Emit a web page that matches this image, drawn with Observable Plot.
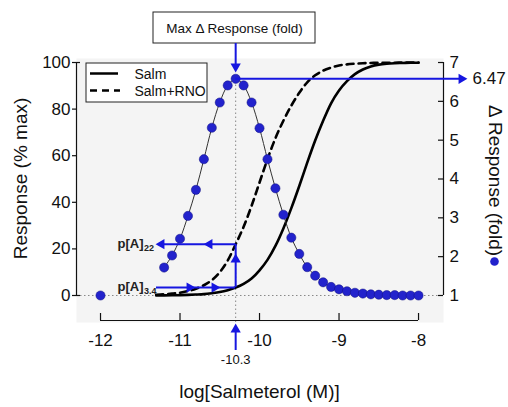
<!DOCTYPE html>
<html><head><meta charset="utf-8">
<script src="https://cdn.jsdelivr.net/npm/d3@7"></script>
<script src="https://cdn.jsdelivr.net/npm/@observablehq/plot@0.6"></script>
<style>body{margin:0;background:#fff;} #chart svg{display:block;}</style>
</head><body><div id="chart"></div>
<script>
// ---------- data ----------
const foldConc = [-12, -11.2, -11.1, -11.0, -10.9, -10.8, -10.7, -10.6, -10.5, -10.4, -10.3, -10.2, -10.1, -10.0, -9.9, -9.8, -9.7, -9.6, -9.5, -9.4, -9.3, -9.2, -9.1, -9.0, -8.9, -8.8, -8.7, -8.6, -8.5, -8.4, -8.3, -8.2, -8.1, -8.0];
const foldValues = [1.00, 1.72, 2.03, 2.46, 3.05, 3.72, 4.51, 5.32, 5.97, 6.41, 6.58, 6.41, 5.97, 5.31, 4.51, 3.76, 3.08, 2.49, 2.07, 1.73, 1.51, 1.34, 1.22, 1.16, 1.11, 1.07, 1.05, 1.03, 1.02, 1.01, 1.01, 1.00, 1.00, 1.00];
const curveConc = [-11.3, -11.2, -11.1, -11.0, -10.9, -10.8, -10.7, -10.6, -10.5, -10.4, -10.3, -10.2, -10.1, -10.0, -9.9, -9.8, -9.7, -9.6, -9.5, -9.4, -9.3, -9.2, -9.1, -9.0, -8.9, -8.8, -8.7, -8.6, -8.5, -8.4, -8.3, -8.2, -8.1, -8.0];
const salm = [0.0, 0.05, 0.1, 0.15, 0.25, 0.4, 0.6, 1.0, 1.5, 2.3, 3.4, 5.0, 7.3, 10.8, 15.3, 21.3, 28.8, 37.5, 47, 57, 66.5, 75, 82.5, 88, 92, 95, 97, 98.3, 99.1, 99.5, 99.7, 99.8, 99.9, 99.9];
const salmRno = [0.3, 0.5, 0.8, 1.2, 1.9, 2.9, 4.4, 6.6, 10, 15, 22, 29.5, 38.5, 48.5, 58.5, 67.5, 75, 81.5, 87, 91.5, 94.5, 96.5, 97.8, 98.7, 99.2, 99.5, 99.7, 99.8, 99.9, 99.9, 99.9, 100, 100, 100];
const xTicks = [-12, -11, -10, -9, -8];
const leftTicks = [0, 20, 40, 60, 80, 100];
const rightTicks = [1, 2, 3, 4, 5, 6, 7];
const seriesNames = ["Salm", "Salm+RNO"];
const peakConc = -10.3;
const peakFold = 6.58;
const peakLabel = "6.47";
const pA22 = 22, pA34 = 3.4;

// ---------- layout ----------
const W = 508, H = 407, L = 76, R = 443, T = 58, B = 322;
const x0 = -12.302, x1 = -7.686;
const y0 = -11.59, y1 = 101.72;
const kx = (R - L) / (x1 - x0), ky = (B - T) / (y1 - y0);
const X = px => x0 + (px - L) / kx;
const Y = py => y0 + (B - py) / ky;
const F = f => (f - 1) / 6 * 100;   // fold -> left-axis units

const blue = "#1616e0", dotBlue = "#2222cc", ink = "#111";
const fold = foldConc.map((c, i) => ({c, f: foldValues[i]}));
const curves = curveConc.flatMap((c, i) => [{c, v: salm[i], s: seriesNames[0]}, {c, v: salmRno[i], s: seriesNames[1]}]);
const one = [0];
const t = (txt, px, py, o = {}) => Plot.text([txt], {x: () => X(px), y: () => Y(py), text: d => d, fill: ink, ...o});

const chart = Plot.plot({
  width: W, height: H,
  marginLeft: L, marginRight: W - R, marginTop: T, marginBottom: H - B,
  x: {domain: [x0, x1], axis: null},
  y: {domain: [y0, y1], axis: null},
  style: {fontFamily: "'Liberation Sans', Arial, sans-serif", background: "white"},
  marks: [
    Plot.frame({fill: "#f4f4f4", stroke: null}),
    // dotted reference lines
    Plot.ruleY([0], {x1: x0, x2: x1, stroke: "#888", strokeWidth: 1, strokeDasharray: "1.5,2.5"}),
    Plot.ruleX([peakConc], {y1: Y(322), y2: F(peakFold), stroke: "#888", strokeWidth: 1, strokeDasharray: "1.5,2.5"}),
    // concentration-response curves
    Plot.line(curves.filter(d => d.s === seriesNames[0]), {x: "c", y: "v", stroke: "#000", strokeWidth: 2.6, curve: "monotone-x"}),
    Plot.line(curves.filter(d => d.s === seriesNames[1]), {x: "c", y: "v", stroke: "#000", strokeWidth: 2.6, strokeDasharray: "7,5", curve: "monotone-x"}),
    // fold response
    Plot.line(fold.slice(1), {x: "c", y: d => F(d.f), stroke: "#333", strokeWidth: 1, curve: "catmull-rom"}),
    Plot.dot(fold, {x: "c", y: d => F(d.f), r: 4.6, fill: dotBlue, stroke: "#101080", strokeWidth: 0.5}),
    // left axis
    Plot.ruleX([x0], {y1: 0, y2: 100, stroke: ink, strokeWidth: 1.2}),
    Plot.ruleY(leftTicks, {y: d => d, x1: x0 - 4 / kx, x2: x0, stroke: ink, strokeWidth: 1.2}),
    Plot.ruleY([0, 100], {y: d => d, x1: x0, x2: x0 + 4 / kx, stroke: ink, strokeWidth: 1.2}),
    Plot.text(leftTicks, {x: x0, y: d => d, text: d => String(d), dx: -6, textAnchor: "end", fontSize: 17, fill: ink}),
    // right axis
    Plot.ruleX([x1], {y1: 0, y2: 100, stroke: ink, strokeWidth: 1.2}),
    Plot.ruleY(rightTicks, {y: d => F(d), x1: x1 - 5 / kx, x2: x1, stroke: ink, strokeWidth: 1.2}),
    Plot.text(rightTicks, {x: x1, y: d => F(d), text: d => String(d), dx: 6, textAnchor: "start", fontSize: 17, fill: ink}),
    // bottom axis
    Plot.ruleY([Y(320)], {x1: xTicks[0], x2: xTicks[xTicks.length - 1], stroke: ink, strokeWidth: 1.2}),
    Plot.ruleX(xTicks, {x: d => d, y1: Y(320), y2: Y(313), stroke: ink, strokeWidth: 1.2}),
    Plot.text(xTicks, {x: d => d, y: Y(340), text: d => String(d), fontSize: 17, fill: ink}),
    // axis titles
    t("Response (% max)", 20, 178, {rotate: -90, fontSize: 19}),
    t("log[Salmeterol (M)]", 259, 391, {fontSize: 19}),
    t("\u0394 Response (fold)", 495, 180, {rotate: 90, fontSize: 19}),
    Plot.dot(one, {x: () => X(494), y: () => Y(261), r: 4.3, fill: dotBlue}),
    // legend
    Plot.rect(one, {x1: () => X(86), x2: () => X(207), y1: () => Y(63), y2: () => Y(102), fill: "white", stroke: "#222", strokeWidth: 1}),
    Plot.ruleY(one, {y: () => Y(73), x1: () => X(90), x2: () => X(118), stroke: "#000", strokeWidth: 2.5}),
    Plot.ruleY(one, {y: () => Y(90), x1: () => X(90), x2: () => X(120), stroke: "#000", strokeWidth: 2.5, strokeDasharray: "7,5"}),
    t(seriesNames[0], 134, 74, {textAnchor: "start", fontSize: 14}),
    t(seriesNames[1], 134, 91, {textAnchor: "start", fontSize: 14}),
    // top annotation box and arrow
    Plot.rect(one, {x1: () => X(153), x2: () => X(315), y1: () => Y(12), y2: () => Y(43), fill: "white", stroke: "#222", strokeWidth: 1}),
    t("Max \u0394 Response (fold)", 234, 28, {fontSize: 13.5}),
    Plot.ruleX([peakConc], {y1: Y(43), y2: Y(67), stroke: blue, strokeWidth: 2}),
    Plot.dot([peakConc], {x: d => d, y: Y(66), symbol: "triangle", r: 3.8, rotate: 180, fill: blue}),
    // peak -> 6.47 arrow
    Plot.ruleY([F(peakFold)], {x1: peakConc, x2: X(460), stroke: blue, strokeWidth: 2}),
    Plot.dot([F(peakFold)], {x: X(461), y: d => d, symbol: "triangle", r: 3.8, rotate: 90, fill: blue}),
    t(peakLabel, 472, 78, {textAnchor: "start", fontSize: 17}),
    // p[A] arrows
    Plot.ruleY([pA34], {x1: X(156), x2: peakConc, stroke: blue, strokeWidth: 2}),
    Plot.dot([X(189), X(214)], {x: d => d, y: pA34, symbol: "triangle", r: 3.8, rotate: 90, fill: blue}),
    Plot.ruleX([peakConc], {y1: pA34, y2: pA22, stroke: blue, strokeWidth: 2}),
    Plot.dot([peakConc], {x: d => d, y: Y(259), symbol: "triangle", r: 3.8, rotate: 0, fill: blue}),
    Plot.ruleY([pA22], {x1: X(158), x2: peakConc, stroke: blue, strokeWidth: 2}),
    Plot.dot([X(161), X(209)], {x: d => d, y: pA22, symbol: "triangle", r: 3.8, rotate: -90, fill: blue}),
    Plot.text(["p[A]"], {x: X(143), y: pA22, text: d => d, textAnchor: "end", fontSize: 13, fontWeight: "bold", fill: "#222"}),
    Plot.text(["22"], {x: X(143.5), y: pA22, dy: 4, text: d => d, textAnchor: "start", fontSize: 9, fontWeight: "bold", fill: "#222"}),
    Plot.text(["p[A]"], {x: X(143), y: pA34, dy: -1, text: d => d, textAnchor: "end", fontSize: 13, fontWeight: "bold", fill: "#222"}),
    Plot.text(["3.4"], {x: X(143.5), y: pA34, dy: 4, text: d => d, textAnchor: "start", fontSize: 9, fontWeight: "bold", fill: "#222"}),
    // bottom -10.3 arrow
    Plot.ruleX([peakConc], {y1: Y(350), y2: Y(329), stroke: blue, strokeWidth: 2}),
    Plot.dot([peakConc], {x: d => d, y: Y(329), symbol: "triangle", r: 3.8, rotate: 0, fill: blue}),
    Plot.text([String(peakConc)], {x: peakConc, y: Y(359), text: d => d, fontSize: 13, fill: ink})
  ]
});
document.getElementById("chart").appendChild(chart);
</script>
</body></html>
